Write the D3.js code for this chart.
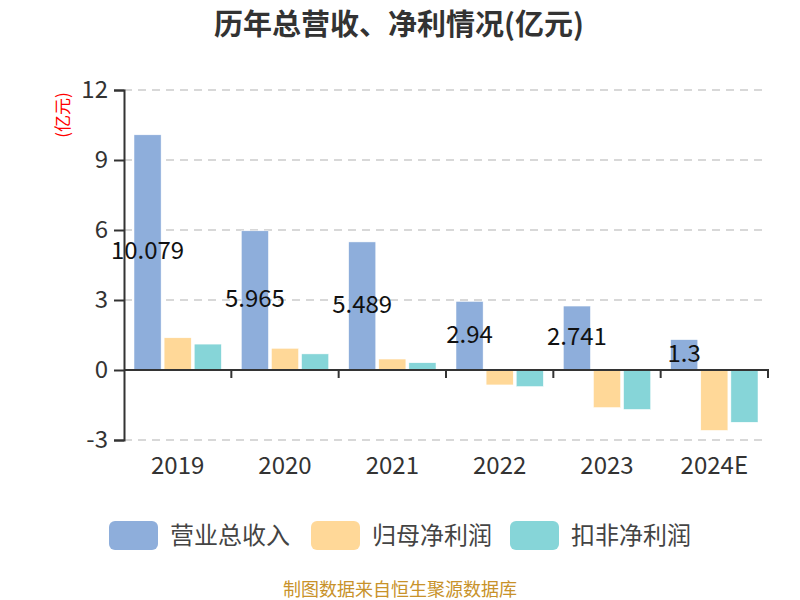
<!DOCTYPE html>
<head>
  <meta charset="utf-8">
  <script src="https://d3js.org/d3.v7.min.js"></script>
  <style>
    body { margin:0; background:white; }
    svg { font-family: "Noto Sans CJK SC", "Noto Sans", sans-serif; }
  </style>
</head>
<body>
<script>
  // data
  var years = ["2019", "2020", "2021", "2022", "2023", "2024E"];
  var revenue = [10.079, 5.965, 5.489, 2.94, 2.741, 1.3];
  var netProfit = [1.38, 0.93, 0.47, -0.64, -1.61, -2.59];
  var deductedProfit = [1.11, 0.69, 0.31, -0.71, -1.69, -2.24];
  var seriesNames = ["营业总收入", "归母净利润", "扣非净利润"];
  var colors = ["#8eaedb", "#ffd898", "#86d5d8"];
  var yTicks = [-3, 0, 3, 6, 9, 12];

  var width = 800, height = 600;
  var svg = d3.select("body").append("svg")
    .attr("width", width)
    .attr("height", height);

  var x = d3.scaleBand().domain(years).range([124, 768]);
  var y = d3.scaleLinear().domain([-3, 12]).range([440, 90]);
  var inner = d3.scaleBand().domain([0, 1, 2])
    .range([10, x.bandwidth() - 10]).paddingInner(0.1);

  // title
  svg.append("text")
    .attr("x", 399).attr("y", 35)
    .attr("text-anchor", "middle")
    .attr("font-size", 29).attr("font-weight", "bold")
    .attr("fill", "#333")
    .text("历年总营收、净利情况(亿元)");

  // unit
  svg.append("text")
    .attr("transform", "translate(69,115) rotate(-90)")
    .attr("text-anchor", "middle")
    .attr("font-size", 17)
    .attr("fill", "red")
    .text("(亿元)");

  // grid
  svg.append("g").selectAll("line")
    .data(yTicks.filter(function(d){ return d !== 0; }))
    .enter().append("line")
    .attr("x1", 124).attr("x2", 768)
    .attr("y1", function(d){ return y(d); })
    .attr("y2", function(d){ return y(d); })
    .attr("stroke", "#ccc")
    .attr("stroke-width", 1.5)
    .attr("stroke-dasharray", "8,6");

  // y axis
  var yAxis = d3.axisLeft(y).tickValues(yTicks).tickFormat(String)
    .tickSize(10).tickPadding(6);
  var yg = svg.append("g").attr("transform", "translate(124,0)").call(yAxis);
  yg.select(".domain").attr("stroke", "#333").attr("stroke-width", 2);
  yg.selectAll(".tick line").attr("stroke", "#333").attr("stroke-width", 2);
  yg.selectAll(".tick text").attr("font-size", 24).attr("fill", "#333")
    .attr("font-family", "Noto Sans CJK SC");

  // bars
  var seriesData = [revenue, netProfit, deductedProfit];
  seriesData.forEach(function(vals, s){
    svg.append("g").selectAll("rect")
      .data(vals)
      .enter().append("rect")
      .attr("x", function(d, i){ return x(years[i]) + inner(s); })
      .attr("width", inner.bandwidth())
      .attr("y", function(d){ return Math.min(y(d), y(0)); })
      .attr("height", function(d){ return Math.abs(y(d) - y(0)); })
      .attr("fill", colors[s])
      .attr("stroke", "white")
      .attr("stroke-width", 0.5);
  });

  // x axis
  var xAxisLine = svg.append("g");
  xAxisLine.append("line")
    .attr("x1", 124).attr("x2", 769)
    .attr("y1", y(0)).attr("y2", y(0))
    .attr("stroke", "#333").attr("stroke-width", 2);
  xAxisLine.selectAll(".xt")
    .data(years)
    .enter().append("line")
    .attr("class", "xt")
    .attr("x1", function(d){ return x(d) + x.bandwidth(); })
    .attr("x2", function(d){ return x(d) + x.bandwidth(); })
    .attr("y1", y(0)).attr("y2", y(0) + 8)
    .attr("stroke", "#333").attr("stroke-width", 2);

  svg.append("g").selectAll("text")
    .data(years)
    .enter().append("text")
    .attr("x", function(d){ return x(d) + x.bandwidth() / 2; })
    .attr("y", 474)
    .attr("text-anchor", "middle")
    .attr("font-size", 24)
    .attr("fill", "#333")
    .text(function(d){ return d; });

  // revenue labels
  svg.append("g").selectAll("text")
    .data(revenue)
    .enter().append("text")
    .attr("x", function(d, i){ return x(years[i]) + inner(0) + inner.bandwidth() / 2; })
    .attr("y", function(d){ return (y(d) + y(0)) / 2 + 7; })
    .attr("text-anchor", "middle")
    .attr("font-size", 24)
    .attr("fill", "#111")
    .text(function(d){ return d; });

  // legend
  var legendX = [109, 311, 510];
  var legend = svg.append("g").selectAll("g")
    .data(seriesNames)
    .enter().append("g")
    .attr("transform", function(d, i){ return "translate(" + legendX[i] + ",521)"; });
  legend.append("rect")
    .attr("width", 49).attr("height", 29)
    .attr("rx", 6)
    .attr("fill", function(d, i){ return colors[i]; });
  legend.append("text")
    .attr("x", 61).attr("y", 23)
    .attr("font-size", 24)
    .attr("fill", "#444")
    .text(function(d){ return d; });

  // footer
  svg.append("text")
    .attr("x", 400).attr("y", 596)
    .attr("text-anchor", "middle")
    .attr("font-size", 18)
    .attr("fill", "#c8922a")
    .text("制图数据来自恒生聚源数据库");
</script>
</body>
